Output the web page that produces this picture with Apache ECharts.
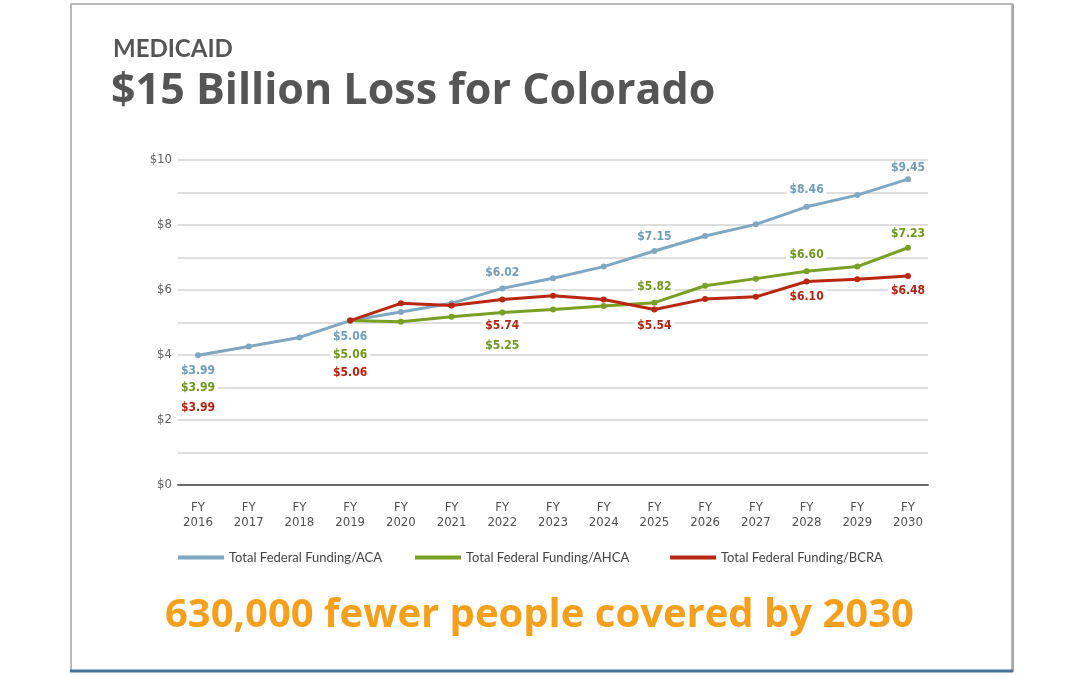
<!DOCTYPE html>
<html>
<head>
<meta charset="utf-8">
<script src="https://cdn.jsdelivr.net/npm/echarts@6/dist/echarts.min.js"></script>
<style>
  html, body { margin: 0; padding: 0; background: #ffffff; }
  #chart { width: 1080px; height: 675px; }
</style>
</head>
<body>
<div id="chart"></div>
<script>
// ---- data ----
const years = ['2016','2017','2018','2019','2020','2021','2022','2023','2024','2025','2026','2027','2028','2029','2030'];
const yTicks = [0, 2, 4, 6, 8, 10];
const aca  = [3.99, 4.26, 4.54, 5.06, 5.32, 5.59, 6.05, 6.36, 6.72, 7.20, 7.66, 8.02, 8.56, 8.92, 9.41];
const ahca = [3.99, null, null, 5.06, 5.02, 5.18, 5.31, 5.40, 5.51, 5.61, 6.13, 6.35, 6.58, 6.72, 7.30];
const bcra = [3.99, null, null, 5.06, 5.59, 5.52, 5.71, 5.82, 5.71, 5.40, 5.72, 5.79, 6.26, 6.33, 6.43];
const acaLabels  = ['$3.99', null, null, '$5.06', null, null, '$6.02', null, null, '$7.15', null, null, '$8.46', null, '$9.45'];
const ahcaLabels = ['$3.99', null, null, '$5.06', null, null, '$5.25', null, null, '$5.82', null, null, '$6.60', null, '$7.23'];
const bcraLabels = ['$3.99', null, null, '$5.06', null, null, '$5.74', null, null, '$5.54', null, null, '$6.10', null, '$6.48'];
const seriesNames = ['Total Federal Funding/ACA', 'Total Federal Funding/AHCA', 'Total Federal Funding/BCRA'];
const titleSmall = 'MEDICAID';
const titleBig = '$15 Billion Loss for Colorado';
const footer = '630,000 fewer people covered by 2030';

// ---- styling / placement (not data) ----
const colors = ['#7ea8c1', '#78a025', '#b8270f'];
const labelColors = ['#6f9dba', '#6f971c', '#b3230f'];
const labelDy = [
  {0: 16, 3: 16, 6: -16, 9: -14, 12: -17, 14: -11},
  {0: 33, 3: 34, 6: 33, 9: -16, 12: -16, 14: -14},
  {0: 53, 3: 52, 6: 26, 9: 16, 12: 15, 14: 15}
];
const hiddenFirst = [false, true, true];
const condensed = '"Liberation Sans Narrow", "DejaVu Sans Condensed", "Roboto", sans-serif';

function buildSeries(idx, values, labels) {
  return {
    type: 'line',
    name: seriesNames[idx],
    z: 3 + idx,
    symbol: 'circle',
    symbolSize: 6,
    lineStyle: { width: 3, color: colors[idx] },
    itemStyle: { color: colors[idx] },
    emphasis: { disabled: true },
    data: values.map((v, i) => {
      const item = { value: [i, v === null ? '-' : v] };
      if (labels[i]) {
        item.label = {
          show: true,
          position: 'inside',
          offset: [0, labelDy[idx][i] || 0],
          formatter: labels[i],
          color: labelColors[idx],
          fontFamily: condensed,
          fontWeight: 'bold',
          fontSize: 12,
          backgroundColor: '#ffffff',
          padding: [1, 3]
        };
      }
      if (i === 0 && hiddenFirst[idx]) {
        item.symbolSize = 0;
        item.itemStyle = { color: 'rgba(0,0,0,0)' };
      }
      return item;
    })
  };
}

const chart = echarts.init(document.getElementById('chart'), null, { renderer: 'canvas' });

const legendBase = {
  top: 551,
  padding: 0,
  icon: 'rect',
  itemWidth: 46,
  itemHeight: 4,
  itemGap: 7,
  textStyle: { fontFamily: 'Lato, "Open Sans", sans-serif', fontSize: 13, color: '#444444' },
  selectedMode: false
};

chart.setOption({
  animation: false,
  backgroundColor: '#ffffff',
  grid: { left: 178, top: 160, width: 750, height: 325, containLabel: false },
  xAxis: {
    type: 'value',
    min: -0.3944,
    max: 14.3944,
    splitLine: { show: false },
    axisTick: { show: false },
    axisLine: { show: true, lineStyle: { color: '#6b6b6b', width: 2 } },
    axisLabel: {
      customValues: years.map((y, i) => i),
      formatter: function (v) { return 'FY\n' + years[Math.round(v)]; },
      color: '#505050',
      fontFamily: condensed,
      fontSize: 13,
      lineHeight: 15,
      margin: 15,
      showMinLabel: true,
      showMaxLabel: true
    }
  },
  yAxis: {
    type: 'value',
    min: yTicks[0],
    max: yTicks[yTicks.length - 1],
    interval: 2,
    axisLine: { show: false },
    axisTick: { show: false },
    axisLabel: {
      formatter: function (v) { return '$' + v; },
      color: '#606060',
      fontFamily: condensed,
      fontSize: 13,
      margin: 6
    },
    splitLine: { show: true, lineStyle: { color: '#d3d3d3', width: 1.5 } },
    minorTick: { show: false, splitNumber: 2 },
    minorSplitLine: { show: true, lineStyle: { color: '#d3d3d3', width: 1.5 } }
  },
  legend: [
    Object.assign({}, legendBase, { left: 178, data: [seriesNames[0]] }),
    Object.assign({}, legendBase, { left: 415, data: [seriesNames[1]] }),
    Object.assign({}, legendBase, { left: 670, data: [seriesNames[2]] })
  ],
  series: [
    buildSeries(0, aca, acaLabels),
    buildSeries(1, ahca, ahcaLabels),
    buildSeries(2, bcra, bcraLabels)
  ],
  graphic: [
    { type: 'rect', z: 0, silent: true, shape: { x: 71, y: 4, width: 941, height: 667 },
      style: { fill: 'none', stroke: '#b9b9b9', lineWidth: 2 } },
    { type: 'line', z: 1, silent: true, shape: { x1: 1013, y1: 4, x2: 1013, y2: 672 },
      style: { stroke: '#a8a8a8', lineWidth: 2 } },
    { type: 'line', z: 1, silent: true, shape: { x1: 70, y1: 671, x2: 1013, y2: 671 },
      style: { stroke: '#44739c', lineWidth: 3 } },
    { type: 'text', silent: true, left: 113, top: 37,
      style: { text: titleSmall, font: 'bold 24px Lato, "Open Sans", sans-serif', fill: '#555555' } },
    { type: 'text', silent: true, left: 111, top: 70,
      style: { text: titleBig, font: 'bold 43px "Open Sans", Lato, sans-serif', fill: '#555555' } },
    { type: 'text', silent: true, left: 165, top: 596,
      style: { text: footer, font: 'bold 40px "Open Sans", Lato, sans-serif', fill: '#f5a01c' } }
  ]
});
</script>
</body>
</html>
